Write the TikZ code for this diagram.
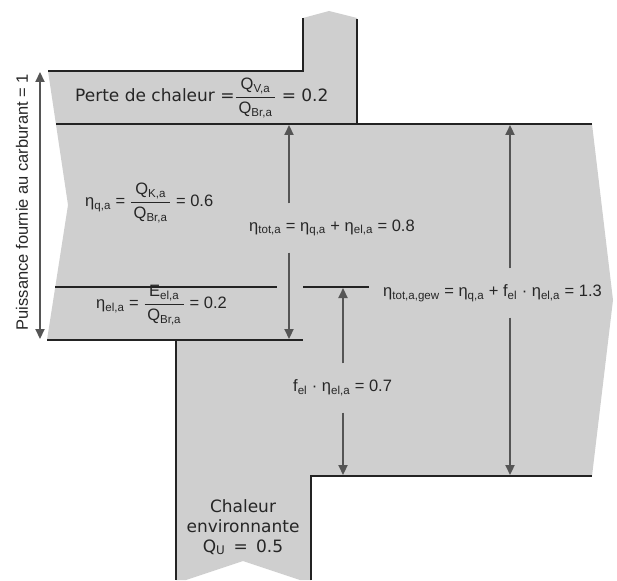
\documentclass[tikz,border=0pt]{standalone}
\usepackage{amsmath}
\usepackage{fontspec}
\setmainfont{Liberation Sans}
\newfontfamily\vfont{DejaVu Sans}
\usetikzlibrary{arrows.meta,calc}
\definecolor{flowgray}{RGB}{207,207,207}
\definecolor{edgeblack}{RGB}{35,35,35}
\definecolor{arrowgray}{RGB}{85,85,85}
\newcommand{\sbs}[1]{\textsubscript{#1}}
\newcommand{\flowfrac}[2]{$\displaystyle\frac{\mbox{\,#1\,}}{\mbox{\,#2\,}}$}
\tikzset{
  flow-fill/.style={fill=flowgray, draw=none},
  edge-line/.style={draw=edgeblack, line width=1.8pt},
  dim-arrow/.style={-{Triangle[length=10pt,width=9pt]}, draw=arrowgray, line width=2.2pt},
  both-arrow/.style={{Triangle[length=10pt,width=9pt]}-{Triangle[length=10pt,width=9pt]}, draw=arrowgray, line width=2.2pt},
  formula/.style={font=\fontsize{16.5}{20}\selectfont, inner sep=0pt, text=black!85},
  verdana-text/.style={font=\vfont\fontsize{17}{20}\selectfont, inner sep=0pt, text=black!85, align=center},
  gap-label/.style={formula, anchor=west, minimum height=49pt}
}

\begin{document}
\begin{tikzpicture}[x=1pt,y=-1pt]
\useasboundingbox (0,0) rectangle (617,580);

% grey flow band
\fill[flow-fill] (48,71) -- (303,71) -- (303,18) -- (329,11) -- (357,18) -- (357,124)
  -- (592,124) -- (613,300) -- (592,476) -- (311,476) -- (311,580) -- (300,580)
  -- (243,561) -- (186,580) -- (176,580) -- (176,340) -- (47,340) -- (68,205) -- cycle;

% outlines
\draw[edge-line] (48,71) -- (303,71) -- (303,18);
\draw[edge-line] (357,19) -- (357,124);
\draw[edge-line] (56,124) -- (592,124);
\draw[edge-line] (55,287) -- (277,287);
\draw[edge-line] (303,287) -- (369,287);
\draw[edge-line] (47,340) -- (303,340);
\draw[edge-line] (176,340) -- (176,580);
\draw[edge-line] (311,580) -- (311,476) -- (592,476);

% arrow ends on the lines
\coordinate (fuelTop) at (40,72);
\coordinate (fuelBot) at (40,339);
\coordinate (totTop) at (289,125);
\coordinate (totBot) at (289,339);
\coordinate (felTop) at (343,288);
\coordinate (felBot) at (343,475);
\coordinate (gewTop) at (510,125);
\coordinate (gewBot) at (510,475);

% labels
\node[formula, rotate=90] (fuelLbl) at (22,202) {Puissance fournie au carburant = 1};
\node[formula, anchor=west] (lossLbl) at (75,98)
  {{\vfont\fontsize{17}{20}\selectfont Perte de chaleur =}\flowfrac{Q\sbs{V,a}}{Q\sbs{Br,a}}{\vfont\fontsize{17}{20}\selectfont\ = 0.2}};
\node[formula, anchor=west] (qLbl) at (85,203)
  {η\sbs{q,a} = \flowfrac{Q\sbs{K,a}}{Q\sbs{Br,a}} = 0.6};
\node[formula, anchor=west] (elLbl) at (96,305)
  {η\sbs{el,a} = \flowfrac{E\sbs{el,a}}{Q\sbs{Br,a}} = 0.2};
\node[gap-label] (totLbl) at (249,228)
  {η\sbs{tot,a} = η\sbs{q,a} + η\sbs{el,a} = 0.8};
\node[gap-label] (gewLbl) at (383,293)
  {η\sbs{tot,a,gew} = η\sbs{q,a} + f\sbs{el} · η\sbs{el,a} = 1.3};
\node[gap-label] (felLbl) at (293,388)
  {f\sbs{el} · η\sbs{el,a} = 0.7};
\node[verdana-text] (ambLbl) at (243,527)
  {Chaleur\\environnante\\Q\sbs{U} \,=\, 0.5};

% dimension arrows
\draw[both-arrow] (fuelTop) -- (fuelBot);
\draw[dim-arrow] (totLbl.north -| totTop) -- (totTop);
\draw[dim-arrow] (totLbl.south -| totTop) -- (totBot);
\draw[dim-arrow] (felLbl.north -| felTop) -- (felTop);
\draw[dim-arrow] (felLbl.south -| felTop) -- (felBot);
\draw[dim-arrow] (gewLbl.north -| gewTop) -- (gewTop);
\draw[dim-arrow] (gewLbl.south -| gewTop) -- (gewBot);
\end{tikzpicture}
\end{document}
